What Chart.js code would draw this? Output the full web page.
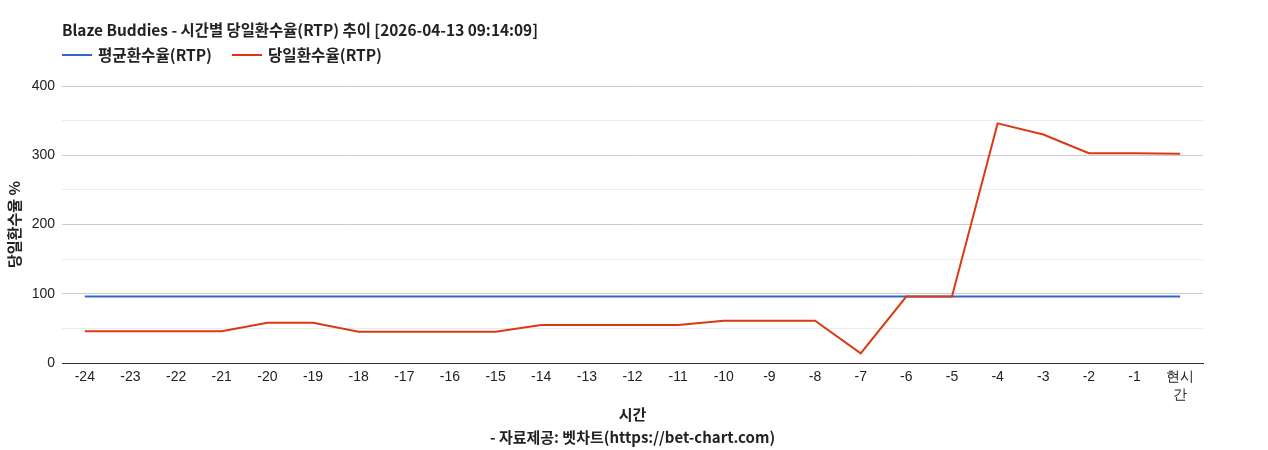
<!DOCTYPE html>
<html>
<head>
<meta charset="utf-8">
<script src="https://cdn.jsdelivr.net/npm/chart.js@4"></script>
<style>
  html, body { margin: 0; padding: 0; background: #fff; }
  #wrap { width: 1268px; height: 450px; }
</style>
</head>
<body>
<div id="wrap"><canvas id="c" width="1268" height="450"></canvas></div>
<script>
const chartTitle = "Blaze Buddies - 시간별 당일환수율(RTP) 추이 [2026-04-13 09:14:09]";
const hourLabels = ["-24","-23","-22","-21","-20","-19","-18","-17","-16","-15","-14","-13","-12","-11","-10","-9","-8","-7","-6","-5","-4","-3","-2","-1",["현시","간"]];
const avgRtp = [96,96,96,96,96,96,96,96,96,96,96,96,96,96,96,96,96,96,96,96,96,96,96,96,96];
const dailyRtp = [46,46,46,46,58,58,45,45,45,45,55,55,55,55,61,61,61,14,96,96,346,330,303,303,302];
const seriesNames = ["평균환수율(RTP)", "당일환수율(RTP)"];
const yTitle = "당일환수율 %";
const xTitle = ["시간", "- 자료제공: 벳차트(https://bet-chart.com)"];

const KFONT = '"Noto Sans CJK KR", "Noto Sans", sans-serif';

const headerPlugin = {
  id: 'header',
  afterDraw(chart) {
    const ctx = chart.ctx;
    const left = chart.chartArea.left;
    ctx.save();
    ctx.fillStyle = '#222';
    ctx.textBaseline = 'middle';
    ctx.textAlign = 'left';
    ctx.font = 'bold 15.4px ' + KFONT;
    ctx.fillText(chartTitle, left, 30);
    let x = left;
    ctx.font = 'bold 15.6px ' + KFONT;
    chart.data.datasets.forEach(ds => {
      ctx.strokeStyle = ds.borderColor;
      ctx.lineWidth = 2;
      ctx.beginPath();
      ctx.moveTo(x, 55);
      ctx.lineTo(x + 30, 55);
      ctx.stroke();
      x += 36;
      ctx.fillStyle = '#222';
      ctx.fillText(ds.label, x, 55);
      x += ctx.measureText(ds.label).width + 20;
    });
    ctx.restore();
  }
};

new Chart(document.getElementById('c'), {
  type: 'line',
  data: {
    labels: hourLabels,
    datasets: [
      { label: seriesNames[0], data: avgRtp, borderColor: '#3366cc', backgroundColor: '#3366cc', borderWidth: 2, pointRadius: 0, tension: 0, order: 1 },
      { label: seriesNames[1], data: dailyRtp, borderColor: '#dc3912', backgroundColor: '#dc3912', borderWidth: 2, pointRadius: 0, tension: 0, order: 0 }
    ]
  },
  options: {
    responsive: false,
    animation: false,
    devicePixelRatio: 1,
    layout: { padding: { top: 86, right: 65, bottom: 0, left: 0 } },
    plugins: {
      legend: { display: false },
      title: { display: false },
      tooltip: { enabled: false }
    },
    scales: {
      x: {
        offset: true,
        grid: { display: false, drawTicks: false },
        border: { display: true, color: '#333', width: 1 },
        ticks: { color: '#222', font: { family: 'Arial, "Liberation Sans", sans-serif', size: 14, lineHeight: 1.3 }, padding: 5, maxRotation: 0, autoSkip: false },
        title: { display: true, text: xTitle, color: '#222', font: { family: KFONT, size: 15, weight: 'bold', lineHeight: '23px' }, padding: { top: 0, bottom: 1.5 } },
        afterFit(scale) { scale.height = 87; }
      },
      y: {
        min: 0, max: 400,
        ticks: {
          stepSize: 50,
          color: '#222',
          padding: 7,
          font: { family: 'Arial, "Liberation Sans", sans-serif', size: 14 },
          callback: (v) => (v % 100 === 0 ? v : '')
        },
        grid: {
          drawTicks: false,
          color: (c) => (c.tick && c.tick.value === 0 ? '#333' : (c.tick && c.tick.value % 100 === 0 ? '#cccccc' : '#ebebeb')),
          lineWidth: 1
        },
        border: { display: false },
        title: { display: true, text: yTitle, color: '#222', font: { family: KFONT, size: 15, weight: 'bold', lineHeight: '18px' }, padding: { top: 5, bottom: 0 } },
        afterFit(scale) { scale.width = 62; }
      }
    }
  },
  plugins: [headerPlugin]
});
</script>
</body>
</html>
